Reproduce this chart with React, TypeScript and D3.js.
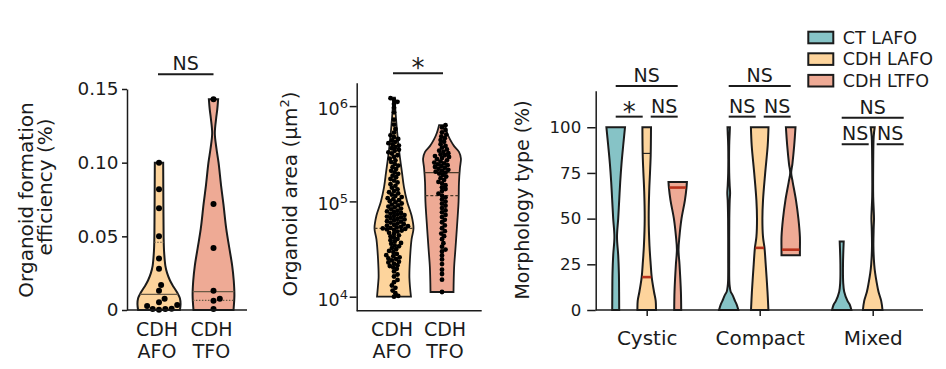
import React, { useRef, useEffect } from "react";
import * as d3 from "d3";

const W = 946;
const H = 369;
const FONT = "'DejaVu Sans', 'Liberation Sans', sans-serif";
const INK = "#1b1b1b";

const ORANGE = "#fdd49c";
const SALMON = "#eeaa95";
const TEAL = "#86c3c6";
const RED = "#b8321c";

// ---- panel 1: organoid formation efficiency (%)
const efficiencyGroups = ["CDH AFO", "CDH TFO"];
const efficiencyTicks = [0, 0.05, 0.1, 0.15];
const efficiencyTickLabels = ["0", "0.05", "0.10", "0.15"];
const efficiencyAFO = [0.1, 0.082, 0.069, 0.05, 0.035, 0.028, 0.017, 0.013, 0.0077, 0.0052, 0.0034, 0.0027, 0.0009, 0.0007, 0.0006, 0.0002];
const efficiencyTFO = [0.143, 0.072, 0.042, 0.013, 0.0077, 0.0063, 0.0007];
// violin outlines: [value, relative density]
const efficiencyAFOShape = [[0, 0.95], [0.004, 0.98], [0.008, 0.95], [0.012, 0.82], [0.016, 0.65], [0.02, 0.5], [0.025, 0.37], [0.03, 0.29], [0.04, 0.23], [0.05, 0.21], [0.07, 0.2], [0.1, 0.19]];
const efficiencyTFOShape = [[0, 0.91], [0.01, 0.95], [0.02, 0.92], [0.03, 0.85], [0.042, 0.72], [0.055, 0.58], [0.072, 0.45], [0.085, 0.34], [0.1, 0.23], [0.11, 0.13], [0.12, 0.06], [0.13, 0.12], [0.136, 0.17], [0.143, 0.21]];
const efficiencyMedians = [0.0106, 0.0125];
const efficiencyQuartiles = [0.046, 0.0066];

// ---- panel 2: organoid area, in thousands of µm²
const areaGroups = ["CDH AFO", "CDH TFO"];
const areaTicks = [10, 100, 1000];
const areaTickExponents = ["4", "5", "6"];
const areaAFO = [
  10, 10.2, 10.9, 11.6, 12.4, 13.1, 14.2, 15.0, 16.3, 17.1, 18.4, 19.6,
  20.3, 21.0, 21.4, 22.2, 22.9, 23.3, 24.1, 24.8, 25.2, 25.9, 26.6, 27.3, 28.1, 29.4, 30.2, 31.5,
  32.4, 33.8, 34.5, 35.9, 36.6, 38.0, 39.2, 40.4, 41.7, 43.0, 44.1, 45.6, 46.8, 48.2, 49.4,
  50.1, 50.8, 51.4, 52.0, 52.7, 53.3, 54.1, 55.0, 55.8, 56.9, 57.6, 58.8, 59.9, 61.2, 62.0, 63.4,
  64.7, 65.5, 66.8, 68.0, 69.3, 70.1, 71.8, 72.9, 74.0, 75.6, 77.1, 78.4,
  80.2, 82.5, 84.1, 86.7, 88.3, 90.9, 92.6, 95.0, 97.8, 100.4, 103.1, 105.5, 108.2, 110.9, 114.0, 117.6, 121.3, 124.8,
  128.5, 134.0, 139.2, 145.7, 151.3, 158.0, 165.4, 171.9, 179.2, 186.0, 194.5,
  201.0, 209.4, 218.7, 228.1, 237.5, 247.0, 258.3, 269.9, 281.2, 293.4, 305.1,
  318.0, 327.5, 339.2, 348.8, 361.0, 372.4, 384.9, 397.2, 408.5, 421.7, 436.0, 452.3, 471.8, 493.1,
  528.0, 575.0, 640.0, 720.0,
  860.0, 960.0, 1050.0, 1110.0, 1160.0, 1210.0,
];
const areaTFO = [
  11.2, 15.1, 17.3, 19.2,
  22.0, 24.6, 27.1, 29.8, 31.2,
  33.5, 36.4, 40.1, 43.2, 46.0, 48.7,
  52.3, 56.0, 60.4, 64.1, 68.5, 72.2, 76.8,
  80.5, 85.2, 90.1, 94.7, 99.6, 104.8, 110.3, 115.1, 120.6,
  128.2, 134.9, 140.6, 148.1, 154.7, 160.2, 167.9, 175.3, 182.0, 189.4, 196.2,
  200.8, 204.9, 210.1, 214.6, 219.8, 225.3, 230.0, 234.7, 240.2, 245.1, 250.6, 255.2, 262.0, 269.7, 277.5, 285.0, 292.3, 299.1, 304.8, 310.4,
  320.2, 331.5, 340.8, 351.0, 366.2, 381.4, 399.0, 421.3, 439.5, 460.2, 481.0,
  502.0, 531.0, 562.0, 598.0, 630.0,
];
const areaAFOShape = [[10, 0.87], [15.8, 0.79], [25, 0.82], [40, 0.9], [52, 1], [71, 0.9], [100, 0.67], [141, 0.51], [200, 0.41], [316, 0.28], [447, 0.2], [631, 0.13], [1000, 0.06], [1230, 0.05]];
const areaTFOShape = [[11.2, 0.59], [20, 0.62], [32, 0.69], [63, 0.79], [100, 0.85], [158, 0.87], [224, 0.92], [282, 0.97], [331, 0.87], [380, 0.62], [447, 0.41], [525, 0.26], [631, 0.15]];
const areaMedians = [52, 115];
const areaQuartiles = [null, 200];

// ---- panel 3: morphology type (%)
const morphCategories = ["Cystic", "Compact", "Mixed"];
const morphSeries = ["CT LAFO", "CDH LAFO", "CDH LTFO"];
const morphTicks = [0, 25, 50, 75, 100];
const cysticShapes = [
  [[0, 0.35], [10, 0.34], [20, 0.32], [30, 0.25], [40, 0.13], [50, 0.25], [60, 0.35], [70, 0.45], [80, 0.58], [90, 0.75], [100, 0.93]],
  [[0, 0.93], [5, 0.9], [10, 0.73], [18, 0.5], [25, 0.4], [35, 0.28], [50, 0.2], [65, 0.25], [75, 0.33], [85, 0.4], [100, 0.43]],
  [[0, 0.35], [10, 0.32], [25, 0.18], [33, 0.08], [40, 0.17], [50, 0.38], [60, 0.72], [67, 0.88], [70, 0.92]],
];
const compactShapes = [
  [[0, 0.97], [3, 0.8], [5, 0.63], [8, 0.4], [10, 0.2], [13, 0.1], [16, 0.06], [30, 0.05], [50, 0.06], [60, 0.1], [64, 0.14], [68, 0.1], [75, 0.05], [90, 0.05], [97, 0.1], [100, 0.12]],
  [[0, 0.87], [10, 0.78], [25, 0.6], [34, 0.48], [40, 0.33], [50, 0.27], [60, 0.33], [75, 0.55], [90, 0.8], [100, 0.88]],
  [[30, 0.92], [33, 0.92], [40, 0.92], [50, 0.77], [60, 0.53], [70, 0.2], [75, 0.05], [80, 0.17], [90, 0.35], [100, 0.48]],
];
const mixedShapes = [
  [[0, 0.97], [3, 0.8], [5, 0.58], [10, 0.25], [15, 0.15], [25, 0.13], [37.5, 0.2]],
  [[0, 0.98], [5, 0.85], [10, 0.58], [15, 0.4], [20, 0.25], [25, 0.15], [35, 0.07], [45, 0.1], [50, 0.13], [55, 0.1], [62, 0.05], [80, 0.05], [95, 0.1], [100, 0.2]],
  [],
];
const cysticMedians = [null, 18, 67];
const compactMedians = [null, 34, 33];
const mixedMedians = [null, null, null];
const cysticQuartiles = [null, 85.7, null];

// significance: [category, from series, to series, label, level]
const morphTests = [
  ["Cystic", 0, 1, "*", 0], ["Cystic", 1, 2, "NS", 0], ["Cystic", 0, 2, "NS", 1],
  ["Compact", 0, 1, "NS", 0], ["Compact", 1, 2, "NS", 0], ["Compact", 0, 2, "NS", 1],
  ["Mixed", 0, 1, "NS", 0], ["Mixed", 1, 2, "NS", 0], ["Mixed", 0, 2, "NS", 1],
];

// ---- scales
const effY = d3.scaleLinear().domain([0, 0.15]).range([310, 89]);
const effX = d3.scalePoint().domain(efficiencyGroups).range([159, 213.5]);
const effW = d3.scaleLinear().domain([0, 1]).range([0, 22]);

const areaY = d3.scaleLog().domain([7.13, 1760]).range([310.7, 82.7]);
const areaX = d3.scalePoint().domain(areaGroups).range([394, 442]);
const areaW = d3.scaleLinear().domain([0, 1]).range([0, 19.5]);

const morphY = d3.scaleLinear().domain([0, 120]).range([310, 90.7]);
const morphX = d3.scalePoint().domain(morphCategories).range([646.7, 872.7]);
const morphOff = d3.scalePoint().domain(morphSeries).range([-31, 31]);
const morphW = d3.scaleLinear().domain([0, 1]).range([0, 10]);
const morphColors = [TEAL, ORANGE, SALMON];

const violin = (shape, cx, y, w) =>
  d3
    .area()
    .y((d) => y(d[0]))
    .x0((d) => cx - w(d[1]))
    .x1((d) => cx + w(d[1]))
    .curve(d3.curveCatmullRom)(shape);

const halfWidthAt = (shape, v, w) =>
  w(d3.scaleLinear().domain(shape.map((d) => d[0])).range(shape.map((d) => d[1])).clamp(true)(v));

// simple deterministic beeswarm
const swarm = (values, y, cx, minDist) => {
  const placed = [];
  return values
    .slice()
    .sort(d3.ascending)
    .map((v) => {
      const py = y(v);
      let off = 0;
      for (let k = 0; k < 400; k++) {
        const o = k === 0 ? 0 : (k % 2 ? 1 : -1) * Math.ceil(k / 2) * 0.7;
        const ok = placed.every((p) => (p.x - (cx + o)) ** 2 + (p.y - py) ** 2 >= minDist * minDist);
        if (ok) {
          off = o;
          break;
        }
      }
      const pt = { x: cx + off, y: py };
      placed.push(pt);
      return pt;
    });
};

const YAxis = ({ scale, x, ticks, labels, size, tick, pad }) => {
  const ref = useRef(null);
  useEffect(() => {
    const g = d3.select(ref.current);
    g.call(
      d3
        .axisLeft(scale)
        .tickValues(ticks)
        .tickFormat((d, i) => labels[i])
        .tickSize(tick)
        .tickSizeOuter(0)
        .tickPadding(pad)
    );
    g.attr("font-family", FONT).attr("font-size", size);
    g.select(".domain").attr("stroke", INK).attr("stroke-width", 1.5);
    g.selectAll(".tick line").attr("stroke", INK).attr("stroke-width", 1.5);
    g.selectAll(".tick text").attr("fill", INK);
  }, []);
  return <g ref={ref} transform={`translate(${x},0)`} />;
};

const XTicks = () => {
  const ref = useRef(null);
  useEffect(() => {
    const g = d3.select(ref.current);
    g.call(d3.axisBottom(morphX).tickSize(6).tickSizeOuter(0).tickPadding(15));
    g.select(".domain").remove();
    g.attr("font-family", FONT).attr("font-size", 20);
    g.selectAll(".tick line").attr("stroke", INK).attr("stroke-width", 1.5);
    g.selectAll(".tick text").attr("fill", INK);
  }, []);
  return <g ref={ref} transform="translate(0,310)" />;
};

const Bracket = ({ x1, x2, y, label, star }) => (
  <g>
    <line x1={x1} x2={x2} y1={y} y2={y} stroke={INK} strokeWidth={2} />
    <text
      x={(x1 + x2) / 2}
      y={star ? y + 4 : y - 4}
      textAnchor="middle"
      fontSize={star ? 26 : 19}
      fill={INK}
    >
      {label}
    </text>
  </g>
);

const TwoLineX = ({ x, text }) => {
  const [a, b] = text.split(" ");
  return (
    <text x={x} textAnchor="middle" fontSize={19} fill={INK}>
      <tspan x={x} y={336}>{a}</tspan>
      <tspan x={x} y={358}>{b}</tspan>
    </text>
  );
};

export default function App() {
  const effData = [efficiencyAFO, efficiencyTFO];
  const effShapes = [efficiencyAFOShape, efficiencyTFOShape];
  const effFills = [ORANGE, SALMON];
  const areaData = [areaAFO, areaTFO];
  const areaShapes = [areaAFOShape, areaTFOShape];
  const morphShapes = [cysticShapes, compactShapes, mixedShapes];
  const morphMedians = [cysticMedians, compactMedians, mixedMedians];

  return (
    <svg
      width={W}
      height={H}
      style={{ position: "absolute", left: 0, top: 0, background: "#fff" }}
      fontFamily={FONT}
    >
      {/* ---------- panel 1 ---------- */}
      <g>
        <text transform="translate(32.7,200) rotate(-90)" textAnchor="middle" fontSize={20} fill={INK}>
          Organoid formation
        </text>
        <text transform="translate(51.7,187) rotate(-90)" textAnchor="middle" fontSize={20} fill={INK}>
          efficiency (%)
        </text>
        {efficiencyGroups.map((g, i) => {
          const cx = effX(g);
          const sh = effShapes[i];
          const hm = halfWidthAt(sh, efficiencyMedians[i], effW);
          const hq = halfWidthAt(sh, efficiencyQuartiles[i], effW);
          return (
            <g key={g}>
              <path d={violin(sh, cx, effY, effW)} fill={effFills[i]} stroke={INK} strokeWidth={2} />
              <line x1={cx - hm} x2={cx + hm} y1={effY(efficiencyMedians[i])} y2={effY(efficiencyMedians[i])} stroke="#6a5a45" strokeWidth={1.4} />
              <line x1={cx - hq} x2={cx + hq} y1={effY(efficiencyQuartiles[i])} y2={effY(efficiencyQuartiles[i])} stroke="#6a5a45" strokeWidth={1.2} strokeDasharray="1.5,1.5" />
              {swarm(effData[i], effY, cx, 6.2).map((p, j) => (
                <circle key={j} cx={p.x} cy={p.y} r={3} fill="#000" />
              ))}
              <TwoLineX x={cx - 2} text={g} />
            </g>
          );
        })}
        <YAxis scale={effY} x={127} ticks={efficiencyTicks} labels={efficiencyTickLabels} size={18.4} tick={5} pad={3.5} />
        <line x1={127} x2={247} y1={310} y2={310} stroke={INK} strokeWidth={1.5} />
        <Bracket x1={effX("CDH AFO") - 1} x2={effX("CDH TFO")} y={74.3} label="NS" />
      </g>

      {/* ---------- panel 2 ---------- */}
      <g>
        <text transform="translate(297,194) rotate(-90)" textAnchor="middle" fontSize={20} fill={INK}>
          Organoid area (µm<tspan dy={-8} fontSize={13}>2</tspan><tspan dy={8}>)</tspan>
        </text>
        {areaGroups.map((g, i) => {
          const cx = areaX(g);
          const sh = areaShapes[i];
          const hm = halfWidthAt(sh, areaMedians[i], areaW);
          return (
            <g key={g}>
              <path d={violin(sh, cx, areaY, areaW)} fill={effFills[i]} stroke={INK} strokeWidth={1.8} />
              <line x1={cx - hm} x2={cx + hm} y1={areaY(areaMedians[i])} y2={areaY(areaMedians[i])} stroke="#4a3a2a" strokeWidth={1.2} strokeDasharray="3,2" />
              {areaQuartiles[i] !== null && (
                <line
                  x1={cx - halfWidthAt(sh, areaQuartiles[i], areaW)}
                  x2={cx + halfWidthAt(sh, areaQuartiles[i], areaW)}
                  y1={areaY(areaQuartiles[i])}
                  y2={areaY(areaQuartiles[i])}
                  stroke="#4a3a2a"
                  strokeWidth={1.2}
                />
              )}
              {swarm(areaData[i], areaY, cx, 3.7).map((p, j) => (
                <circle key={j} cx={p.x} cy={p.y} r={2.4} fill="#000" />
              ))}
              <TwoLineX x={cx + (i === 0 ? -2 : 3)} text={g} />
            </g>
          );
        })}
        <YAxis scale={areaY} x={356.7} ticks={areaTicks} labels={["", "", ""]} size={18} tick={7} pad={3} />
        {areaTicks.map((t, i) => (
          <text key={t} x={348} y={areaY(t) + 9} textAnchor="end" fontSize={17.5} fill={INK}>
            10<tspan dy={-7} fontSize={13}>{areaTickExponents[i]}</tspan>
          </text>
        ))}
        <line x1={356.7} x2={481.7} y1={310.7} y2={310.7} stroke={INK} strokeWidth={1.5} />
        <Bracket x1={areaX("CDH AFO") - 1} x2={areaX("CDH TFO") + 1} y={73.3} label="*" star />
      </g>

      {/* ---------- panel 3 ---------- */}
      <g>
        <text transform="translate(529.3,200) rotate(-90)" textAnchor="middle" fontSize={19} fill={INK}>
          Morphology type (%)
        </text>
        {morphCategories.map((c, ci) =>
          morphSeries.map((s, si) => {
            const sh = morphShapes[ci][si];
            if (!sh.length) return null;
            const cx = morphX(c) + morphOff(s);
            const med = morphMedians[ci][si];
            const q = ci === 0 ? cysticQuartiles[si] : null;
            return (
              <g key={c + s}>
                <path d={violin(sh, cx, morphY, morphW)} fill={morphColors[si]} stroke={INK} strokeWidth={2} />
                {q !== null && (
                  <line x1={cx - halfWidthAt(sh, q, morphW)} x2={cx + halfWidthAt(sh, q, morphW)} y1={morphY(q)} y2={morphY(q)} stroke={INK} strokeWidth={1.1} />
                )}
                {med !== null && (
                  <line x1={cx - halfWidthAt(sh, med, morphW) + 0.5} x2={cx + halfWidthAt(sh, med, morphW) - 0.5} y1={morphY(med)} y2={morphY(med)} stroke={RED} strokeWidth={2.6} />
                )}
              </g>
            );
          })
        )}
        <YAxis scale={morphY} x={595.7} ticks={morphTicks} labels={morphTicks.map(String)} size={16.6} tick={8.5} pad={6} />
        <line x1={595.7} x2={923} y1={310} y2={310} stroke={INK} strokeWidth={1.5} />
        <XTicks />
        {morphTests.map(([c, a, b, label, level], i) => {
          const base = c === "Mixed" ? 90.7 : 105.8;
          const yv = level === 0 ? base : base + (c === "Mixed" ? 14.5 : 16.8);
          const left = morphX(c) + morphOff(morphSeries[a]);
          const right = morphX(c) + morphOff(morphSeries[b]);
          const x1 = level === 0 && a === 1 ? left + 4 : left;
          const x2 = level === 0 && b === 1 ? right - 4 : right;
          return <Bracket key={i} x1={x1} x2={x2} y={morphY(yv)} label={label} star={label === "*"} />;
        })}
        {/* legend */}
        {morphSeries.map((s, i) => (
          <g key={s} transform={`translate(808.3,${37.5 + i * 21.6})`}>
            <rect x={0} y={-5.8} width={25} height={11.6} fill={morphColors[i]} stroke={INK} strokeWidth={2} />
            <text x={34.4} y={6} fontSize={17.5} fill={INK}>
              {s}
            </text>
          </g>
        ))}
      </g>
    </svg>
  );
}
